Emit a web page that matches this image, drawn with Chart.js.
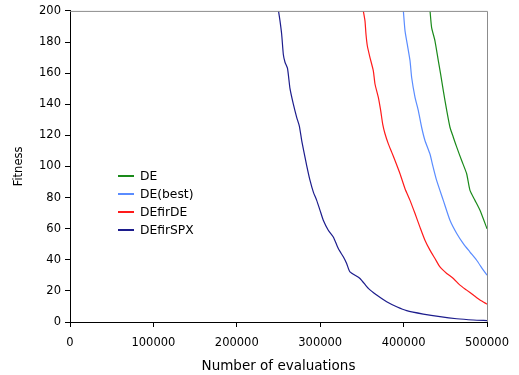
<!DOCTYPE html>
<html>
<head>
<meta charset="utf-8">
<script src="https://cdn.jsdelivr.net/npm/chart.js@4"></script>
<style>
  html, body { margin: 0; padding: 0; background: #fff; }
  #wrap { position: relative; width: 519px; height: 375px; }
  #legend { position: absolute; left: 118px; top: 167px; font-family: "DejaVu Sans", sans-serif; font-size: 12.3px; color: #000; }
  .row { height: 18px; display: flex; align-items: center; }
  .sw { display: inline-block; width: 16px; height: 2px; margin-right: 6px; }
</style>
</head>
<body>
<div id="wrap">
  <canvas id="c" width="519" height="375"></canvas>
  <div id="legend"></div>
</div>
<script>
// ---- data ----
const seriesNames = ["DE", "DE(best)", "DEfirDE", "DEfirSPX"];
const seriesColors = ["#1a8a1a", "#5a8cff", "#ff1a1a", "#1c1c8c"];

const deX = [431700, 433600, 437600, 441600, 444400, 447600, 451700, 455600, 459600, 463700, 469600, 475600, 479600, 485600, 491600, 500000];
const deY = [200, 189.3, 180.8, 168, 159.4, 148.7, 136, 125.2, 118.8, 112.4, 103.8, 95.3, 84.6, 78.2, 71.8, 60];

const deBestX = [399700, 401700, 404400, 407700, 409700, 413700, 417600, 421600, 425600, 431600, 435000, 439600, 447600, 455600, 463700, 471600, 479600, 487600, 495600, 500000];
const deBestY = [200, 187.2, 178.6, 168, 157, 144.4, 136, 125.2, 116.7, 108, 100.5, 91, 78.2, 65.4, 56.9, 50.4, 45, 39.7, 33.3, 30.1];

const firDEX = [351700, 353700, 354900, 356500, 359700, 363700, 365700, 369700, 372500, 375000, 377700, 381700, 385700, 389700, 395700, 401700, 407700, 413700, 419600, 425600, 431600, 437600, 443600, 451700, 459700, 467600, 475600, 483600, 491600, 500000];
const firDEY = [200, 193.6, 185, 177.6, 170, 161.5, 153, 144.4, 136, 127, 121, 114.5, 109.2, 103.8, 95.3, 85.7, 78.2, 69.7, 61, 52.6, 46.2, 40.8, 35.4, 31.2, 28, 23.7, 20.5, 17.3, 14.1, 11.5];

const firSPXX = [250000, 251800, 253800, 255800, 257800, 260800, 263800, 267800, 271800, 275000, 277800, 280600, 283800, 287800, 291800, 295800, 299800, 303700, 309700, 315700, 321700, 327700, 331700, 335700, 347700, 357700, 367700, 379700, 391700, 403700, 423600, 443600, 463700, 483600, 500000];
const firSPXY = [200, 193.6, 185, 172, 167, 163, 150, 140, 131.6, 126, 116.7, 109, 100.6, 91, 83.5, 78.2, 71.8, 65.4, 59, 54.7, 47.2, 41.9, 37.6, 32.2, 28, 21.6, 17.3, 13, 9.8, 7.3, 5.1, 3.4, 2.1, 1.3, 0.9];

const xTitle = "Number of evaluations";
const yTitle = "Fitness";

// ---- build chart ----
const xs = [deX, deBestX, firDEX, firSPXX];
const ys = [deY, deBestY, firDEY, firSPXY];
const datasets = seriesNames.map((name, i) => ({
  label: name,
  data: xs[i].map((x, k) => ({ x: x, y: ys[i][k] })),
  borderColor: seriesColors[i],
  backgroundColor: seriesColors[i],
  borderWidth: 1.2,
  pointRadius: 0,
  tension: 0.2,
  fill: false
}));

const frame = {
  id: 'frame',
  afterDatasetsDraw(chart) {
    const a = chart.chartArea, ctx = chart.ctx;
    ctx.save();
    ctx.strokeStyle = '#8c8c8c';
    ctx.lineWidth = 1;
    ctx.beginPath();
    ctx.moveTo(a.left, a.top + 0.5);
    ctx.lineTo(a.right + 0.5, a.top + 0.5);
    ctx.lineTo(a.right + 0.5, a.bottom);
    ctx.stroke();
    ctx.restore();
  }
};

new Chart(document.getElementById('c'), {
  type: 'line',
  data: { datasets },
  plugins: [frame],
  options: {
    responsive: false,
    animation: false,
    layout: { padding: { top: 10, right: 32, left: 12, bottom: 0 } },
    plugins: { legend: { display: false }, tooltip: { enabled: false } },
    scales: {
      x: {
        type: 'linear', min: 0, max: 500000,
        afterFit(s) { s.height = 53; },
        ticks: { stepSize: 100000, color: '#000', padding: 9, maxRotation: 0,
                 font: { family: 'DejaVu Sans', size: 11.5 },
                 callback: v => String(v) },
        grid: { drawOnChartArea: false, drawTicks: true, tickLength: 5, color: '#000' },
        border: { display: true, color: '#000', width: 1 },
        title: { display: true, text: xTitle, color: '#000', padding: { top: 0, bottom: 0 },
                 font: { family: 'DejaVu Sans', size: 13.5 } }
      },
      y: {
        min: 0, max: 200,
        afterFit(s) { s.width = 58; },
        ticks: { stepSize: 20, color: '#000', padding: 4,
                 font: { family: 'DejaVu Sans', size: 11.5 } },
        grid: { drawOnChartArea: false, drawTicks: true, tickLength: 5, color: '#000' },
        border: { display: true, color: '#000', width: 1 },
        title: { display: true, text: yTitle, color: '#000', padding: { top: 0, bottom: 6 },
                 font: { family: 'DejaVu Sans', size: 11.5 } }
      }
    }
  }
});

// HTML legend built from the series arrays
const lg = document.getElementById('legend');
seriesNames.forEach((n, i) => {
  const r = document.createElement('div'); r.className = 'row';
  const s = document.createElement('span'); s.className = 'sw'; s.style.backgroundColor = seriesColors[i];
  const t = document.createElement('span'); t.textContent = n;
  r.appendChild(s); r.appendChild(t); lg.appendChild(r);
});
</script>
</body>
</html>
